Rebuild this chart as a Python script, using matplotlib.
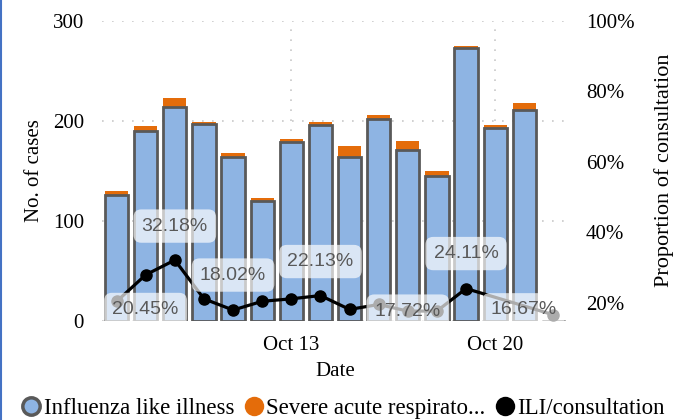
import numpy as np
import pandas as pd
import matplotlib
matplotlib.use("Agg")
import matplotlib.pyplot as plt
from matplotlib.lines import Line2D

# daily counts, Oct 7 - Oct 22
dates = pd.date_range("2019-10-07", "2019-10-22", freq="D")
ili = [126, 190, 214, 197, 164, 120, 179, 196, 164, 202, 171, 145, 273, 193, 211, 0]
sari = [4, 5, 9, 2, 4, 3, 3, 3, 11, 4, 9, 5, 2, 3, 7, 0]
ili_prop = [20.45, 28.0, 32.18, 21.2, 18.02, 20.5, 21.2, 22.13, 18.2, 19.6, 17.72,
            17.75, 24.11, np.nan, np.nan, 16.67]
labelled = [0, 2, 4, 7, 10, 12, 15]
tick_days = ["Oct 13", "Oct 20"]

serif = "Liberation Serif"
plt.rcParams["font.family"] = serif

fig = plt.figure(figsize=(6.86, 4.2), dpi=100)
ax = fig.add_axes([0.1487, 0.2364, 0.6793, 0.7143])
ax2 = ax.twinx()

x = np.arange(len(dates))
ili = np.array(ili)
sari = np.array(sari)
prop = np.array(ili_prop) / 100

ax.bar(x, sari, bottom=ili, width=0.8, color="#E46C0A", zorder=2)
ax.bar(x, ili, width=0.8, color="#8EB4E3", edgecolor="#595959", linewidth=2.0, zorder=3)

ok = ~np.isnan(prop)
ax2.plot(x[ok], prop[ok], color="black", lw=2.3, marker="o", ms=8, zorder=3)

# data labels (positions in pixels relative to the point)
offsets = {0: (29, -8), 2: (0, 34), 4: (0, 35), 7: (0, 34), 10: (0, 0), 12: (0, 35), 15: (-30, 5)}
for i in labelled:
    dx, dy = offsets[i]
    ax2.annotate(f"{ili_prop[i]:.2f}%", (x[i], prop[i]), xytext=(dx * 0.72, dy * 0.72),
                 textcoords="offset points", ha="center", va="center",
                 fontsize=14, color="#595959", family="Liberation Sans", zorder=5,
                 bbox=dict(boxstyle="round,pad=0.42,rounding_size=0.4", fc="white",
                           ec="none", alpha=0.68), annotation_clip=False)

ax.set_xlim(-0.5, len(dates) - 0.5)
ax.set_ylim(0, 300)
ax2.set_ylim(0.15, 1.0)
ax.set_yticks([0, 100, 200, 300])
ax2.set_yticks([0.2, 0.4, 0.6, 0.8, 1.0])
ax2.set_yticklabels(["20%", "40%", "60%", "80%", "100%"])

tick_pos = [i for i, d in enumerate(dates) if d.strftime("%b %-d") in tick_days]
ax.set_xticks(tick_pos)
ax.set_xticklabels([dates[i].strftime("%b %-d") for i in tick_pos])

for a in (ax, ax2):
    for s in a.spines.values():
        s.set_visible(False)
    a.tick_params(length=0, labelsize=15, pad=13)
ax.tick_params(axis="x", pad=11)

ax.grid(True, color="#c8c8c8", ls=(0, (1, 5)), lw=1.2, zorder=0)
ax.set_axisbelow(True)

ax.set_xlabel("Date", fontsize=15, labelpad=5)
ax.set_ylabel("No. of cases", fontsize=15, labelpad=6)
ax2.set_ylabel("Proportion of consultation", fontsize=16, labelpad=14)

handles = [
    Line2D([], [], ls="none", marker="o", ms=12.5, mfc="#8EB4E3", mec="#595959", mew=2.5),
    Line2D([], [], ls="none", marker="o", ms=14, mfc="#E46C0A", mec="none"),
    Line2D([], [], ls="none", marker="o", ms=14, mfc="black", mec="none"),
]
fig.legend(handles, ["Influenza like illness", "Severe acute respirato...", "ILI/consultation"],
           loc="center", bbox_to_anchor=(0.5, 0.028), ncol=3, frameon=False,
           fontsize=16.5, handlelength=0.9, handletextpad=0.1, columnspacing=0.4,
           borderaxespad=0, borderpad=0)

fig.add_artist(Line2D([0.002, 0.002], [0, 1], color="#4472C4", lw=1.5))

fig.savefig("out.png", dpi=100)
